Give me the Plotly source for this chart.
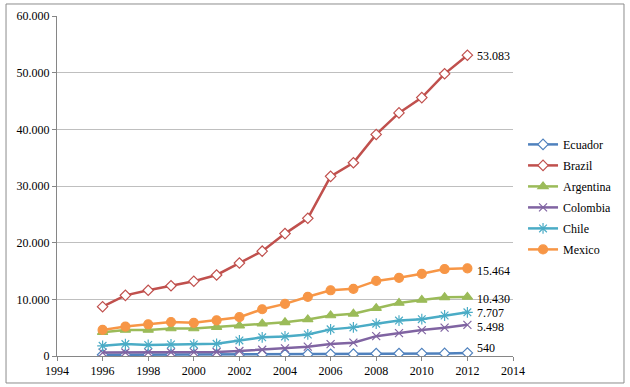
import plotly.graph_objects as go

years = list(range(1996, 2013))
ecuador = [200, 210, 220, 230, 230, 240, 250, 260, 270, 300, 320, 330, 430, 440, 450, 460, 540]
brazil = [8700, 10700, 11600, 12400, 13200, 14300, 16400, 18500, 21600, 24300, 31700, 34100, 39100, 42900, 45600, 49800, 53083]
argentina = [4200, 4600, 4600, 4850, 4850, 5100, 5350, 5700, 5950, 6450, 7150, 7450, 8450, 9350, 9900, 10350, 10430]
colombia = [600, 620, 640, 660, 680, 700, 880, 1100, 1350, 1650, 2100, 2350, 3500, 4050, 4580, 5000, 5498]
chile = [1800, 2100, 1950, 2050, 2050, 2150, 2750, 3300, 3450, 3800, 4700, 5050, 5700, 6250, 6500, 7150, 7707]
mexico = [4600, 5200, 5600, 6000, 5850, 6300, 6850, 8250, 9200, 10450, 11600, 11850, 13250, 13800, 14500, 15350, 15464]

series = [
    ("Ecuador", ecuador, "#4F81BD", "diamond", "white", 8),
    ("Brazil", brazil, "#C0504D", "diamond", "white", 8),
    ("Argentina", argentina, "#9BBB59", "triangle-up", "#9BBB59", 9),
    ("Colombia", colombia, "#8064A2", "x-thin-open", "#8064A2", 8),
    ("Chile", chile, "#4BACC6", "asterisk-open", "#4BACC6", 9),
    ("Mexico", mexico, "#F79646", "circle", "#F79646", 9),
]

font = "Times New Roman"
fig = go.Figure()
for name, vals, col, sym, fill, size in series:
    fig.add_trace(go.Scatter(
        x=years, y=vals, name=name, mode="lines+markers", legendgroup=name,
        line=dict(color=col, width=2.5),
        marker=dict(symbol=sym, size=size, color=fill,
                    line=dict(color=col, width=1.2)),
    ))

label_offsets = {"Ecuador": 5, "Brazil": -1, "Argentina": -2, "Colombia": -2, "Chile": -1, "Mexico": -3}
for name, vals, col, sym, fill, size in series:
    v = vals[-1]
    txt = f"{v:,}".replace(",", ".")
    fig.add_annotation(x=years[-1], y=v, text=txt, showarrow=False,
                       xanchor="left", xshift=8,
                       yshift=label_offsets[name],
                       font=dict(family=font, size=12, color="black"))

fig.add_shape(type="rect", xref="paper", yref="paper",
              x0=-0.1118, x1=1.2434, y0=-0.0794, y1=1.0353,
              line=dict(color="#8C8C8C", width=1), fillcolor="rgba(0,0,0,0)")

fig.update_layout(
    width=630, height=387,
    margin=dict(l=57, r=117, t=16, b=31, autoexpand=False),
    paper_bgcolor="white", plot_bgcolor="white",
    separators=",.",
    font=dict(family=font, size=12, color="black"),
    showlegend=True,
    legend=dict(x=1.022, y=0.665, xanchor="left", yanchor="top",
                font=dict(family=font, size=12), tracegroupgap=2,
                itemwidth=30, bgcolor="rgba(0,0,0,0)"),
    xaxis=dict(range=[1994, 2014], dtick=2, tick0=1994, showgrid=False,
               showline=True, linecolor="#868686", linewidth=1,
               ticks="outside", ticklen=4, tickcolor="#868686",
               zeroline=False, tickfont=dict(size=12)),
    yaxis=dict(range=[0, 60000], dtick=10000, tickformat=",d",
               showgrid=True, gridcolor="#BFBFBF", gridwidth=1,
               showline=True, linecolor="#868686", linewidth=1,
               ticks="outside", ticklen=4, tickcolor="#868686",
               zeroline=False, tickfont=dict(size=12)),
)

fig.write_html("out.html", config={"displayModeBar": False},
               post_script="document.body.style.margin='0';")
